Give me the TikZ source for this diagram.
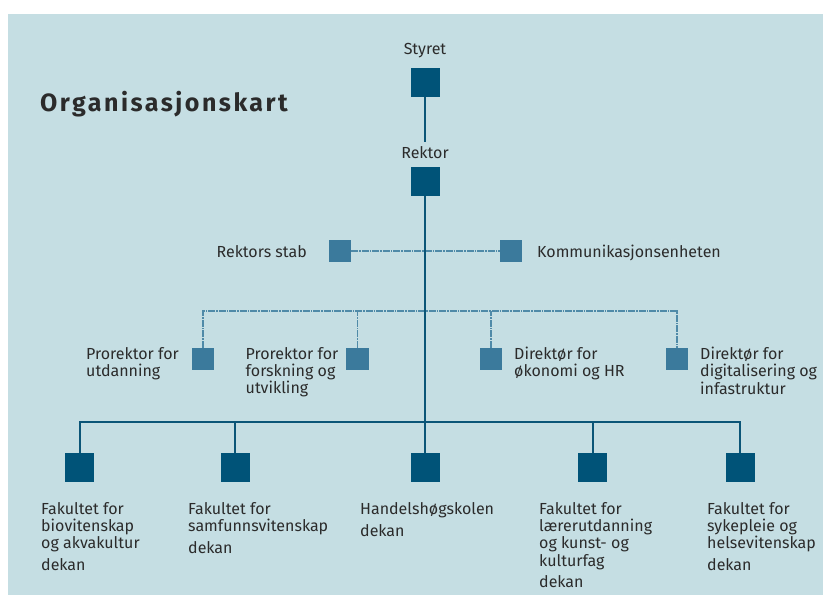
\documentclass[tikz,border=0pt]{standalone}
\usepackage{fontspec}
\setmainfont{Fira Sans}
\newfontfamily\titlefont[LetterSpace=10]{Fira Sans}
\definecolor{bgblue}{HTML}{C5DEE3}
\definecolor{darkbox}{HTML}{005378}
\definecolor{lightbox}{HTML}{3B7A9C}
\definecolor{solidline}{HTML}{0B5577}
\definecolor{dashcol}{HTML}{4F8AA8}
\definecolor{txt}{HTML}{2B2B2B}
\begin{document}
\begin{tikzpicture}[x=1pt,y=-1pt,
  dbox/.style={draw=none,fill=darkbox,minimum width=29pt,minimum height=29pt,inner sep=0pt},
  lbox/.style={draw=none,fill=lightbox,minimum width=22.5pt,minimum height=22.5pt,inner sep=0pt},
  lbl/.style={text=txt,inner sep=0pt,align=left,font=\fontsize{16}{17.3}\selectfont},
  solid/.style={draw=solidline,line width=2pt},
  dashline/.style={draw=dashcol,line width=1.2pt,dash pattern=on 7pt off 1pt on 1.5pt off 1pt}
]
\useasboundingbox (0,0) rectangle (823,595);
\fill[bgblue] (8,14) rectangle (823,595);

\node[anchor=base west,inner sep=0pt,text=txt,font=\titlefont\fontsize{25}{28}\bfseries\selectfont] (title) at (40,111) {Organisasjonskart};

% top
\node[dbox] (s) at (425,82) {};
\node[lbl,anchor=base] (sl) at (425,54) {Styret};
\node[dbox] (r) at (425,181) {};
\node[lbl,anchor=base] (rl) at (425,158) {Rektor};
\coordinate (sEnd) at (425,142);
\coordinate (bus) at (425,422);

% staff
\node[lbox] (stab) at (340,251) {};
\node[lbox] (komm) at (511,251) {};
\node[lbl,anchor=base east] (stabl) at (307,257) {Rektors stab};
\node[lbl,anchor=base west] (komml) at (537,257) {Kommunikasjonsenheten};

% prorektor / direktor
\node[lbox] (p1) at (203,359) {};
\node[lbox] (p2) at (357.5,359) {};
\node[lbox] (p3) at (491,359) {};
\node[lbox] (p4) at (677,359) {};
\coordinate (pb) at (0,311);
\node[lbl,anchor=north west] (p1l) at (86,347) {Prorektor for\\utdanning};
\node[lbl,anchor=north west] (p2l) at (245.5,347) {Prorektor for\\forskning og\\utvikling};
\node[lbl,anchor=north west] (p3l) at (514,347) {Direktør for\\økonomi og HR};
\node[lbl,anchor=north west] (p4l) at (700,347) {Direktør for\\digitalisering og\\infastruktur};

% faculties
\node[dbox] (f1) at (79.5,467.5) {};
\node[dbox] (f2) at (235,467.5) {};
\node[dbox] (f3) at (425,467.5) {};
\node[dbox] (f4) at (592.5,467.5) {};
\node[dbox] (f5) at (740,467.5) {};
\node[lbl,anchor=north west] (f1l) at (41,502) {Fakultet for\\biovitenskap\\og akvakultur\\[4.5pt]dekan};
\node[lbl,anchor=north west] (f2l) at (188,502) {Fakultet for\\samfunnsvitenskap\\[4.5pt]dekan};
\node[lbl,anchor=north west] (f3l) at (360,502) {Handelshøgskolen\\[4.5pt]dekan};
\node[lbl,anchor=north west] (f4l) at (539,502) {Fakultet for\\lærerutdanning\\og kunst- og\\kulturfag\\[4.5pt]dekan};
\node[lbl,anchor=north west] (f5l) at (707,502) {Fakultet for\\sykepleie og\\helsevitenskap\\[4.5pt]dekan};

% dashed connectors
\draw[dashline] (stab) -- (komm);
\draw[dashline] (p1.north) -- (p1.north |- pb) -- (p4.north |- pb) -- (p4.north);
\draw[dashline] (p2.north) -- (p2.north |- pb);
\draw[dashline] (p3.north) -- (p3.north |- pb);

% solid connectors
\draw[solid] (s.south) -- (sEnd);
\draw[solid] (r.south) -- (bus);
\draw[solid] (f1.north) -- (f1.north |- bus) -- (f5.north |- bus) -- (f5.north);
\draw[solid] (f2.north) -- (f2.north |- bus);
\draw[solid] (f3.north) -- (f3.north |- bus);
\draw[solid] (f4.north) -- (f4.north |- bus);
\end{tikzpicture}
\end{document}
